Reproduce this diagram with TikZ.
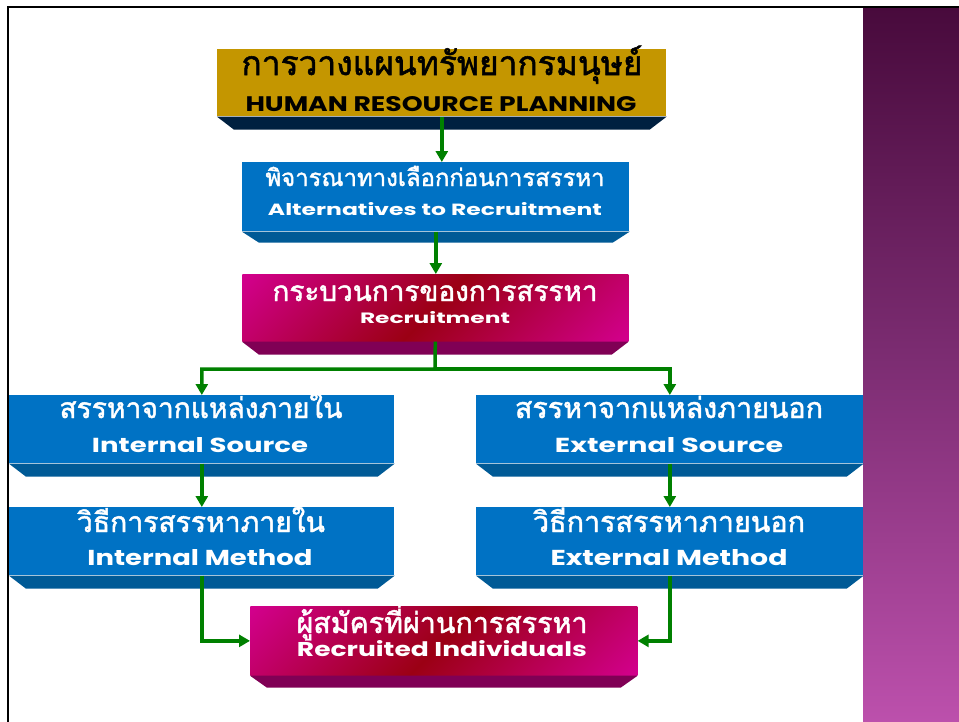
\documentclass[tikz,border=0pt]{standalone}
\usepackage{fontspec}
\setmainfont{Poppins}
\newfontfamily\thaifont[Script=Thai, FakeBold=1.6]{Loma}
\usetikzlibrary{arrows.meta}
\newlength\pxu \setlength\pxu{0.02cm}
\definecolor{gold}{RGB}{196,150,0}
\definecolor{navy}{RGB}{0,32,64}
\definecolor{bluef}{RGB}{0,114,196}
\definecolor{blueb}{RGB}{0,90,150}
\definecolor{mag}{RGB}{210,0,140}
\definecolor{dred}{RGB}{155,0,20}
\definecolor{magb}{RGB}{128,0,85}
\definecolor{arrgreen}{RGB}{0,128,0}
\definecolor{bandtop}{RGB}{72,10,60}
\definecolor{bandmid}{RGB}{125,45,115}
\definecolor{bandbot}{RGB}{188,80,172}
\pgfdeclarehorizontalshading{magred}{100bp}{color(0bp)=(mag);color(15bp)=(mag);color(50bp)=(dred);color(85bp)=(mag);color(100bp)=(mag)}
\newcommand\bevel[3]{\fill[#2] (#1.south west) -- (#1.south east) -- ([xshift=-0.34cm,yshift=-#3]#1.south east) -- ([xshift=0.34cm,yshift=-#3]#1.south west) -- cycle;}
\newcommand\thtxt[6]{\node[anchor=base, inner sep=0, text=#5] (#1) at (#2,#3) {\resizebox{#4\pxu}{!}{\thaifont #6}};}
\newcommand\entxt[7]{\node[anchor=base, inner sep=0, text=#6] (#1) at (#2,#3) {\resizebox{#4\pxu}{#5\pxu}{\bfseries #7}};}
\begin{document}
\begin{tikzpicture}[x=0.02cm,y=-0.02cm,
  box/.style={inner sep=0, anchor=north west},
  arr/.style={draw=arrgreen, line width=0.07cm, -{Triangle[width=0.24cm,length=0.22cm]}},
  magbox/.style={box, shade, shading=magred, shading angle=-45}]
\useasboundingbox (0,0) rectangle (959,721);
\fill[white] (0,0) rectangle (959,721);
\shade[top color=bandtop, bottom color=bandbot, middle color=bandmid] (863,7) rectangle (959,721);
% boxes
\node[box, fill=gold, minimum width=8.98cm, minimum height=1.34cm] (hrp) at (217,49) {};
\bevel{hrp}{navy}{0.26cm}
\node[box, fill=bluef, minimum width=7.74cm, minimum height=1.38cm] (alt) at (242,162) {};
\bevel{alt}{blueb}{0.22cm}
\node[magbox, minimum width=7.72cm, minimum height=1.34cm] (rec) at (242,274) {};
\bevel{rec}{magb}{0.26cm}
\node[box, fill=bluef, minimum width=7.7cm, minimum height=1.36cm] (ins) at (9,395) {};
\bevel{ins}{blueb}{0.26cm}
\node[box, fill=bluef, minimum width=7.74cm, minimum height=1.36cm] (exs) at (476,395) {};
\bevel{exs}{blueb}{0.26cm}
\node[box, fill=bluef, minimum width=7.7cm, minimum height=1.36cm] (inm) at (9,507) {};
\bevel{inm}{blueb}{0.26cm}
\node[box, fill=bluef, minimum width=7.74cm, minimum height=1.36cm] (exm) at (476,507) {};
\bevel{exm}{blueb}{0.26cm}
\node[magbox, minimum width=7.74cm, minimum height=1.38cm] (rci) at (250,606) {};
\bevel{rci}{magb}{0.24cm}
% texts
\thtxt{hrpth}{442}{75}{401}{black}{การวางแผนทรัพยากรมนุษย์}
\entxt{hrpen}{441}{111}{391}{15}{black}{HUMAN RESOURCE PLANNING}
\thtxt{altth}{435}{186}{339}{white}{พิจารณาทางเลือกก่อนการสรรหา}
\entxt{alten}{435}{215}{334}{13}{white}{Alternatives to Recruitment}
\thtxt{recth}{435}{301}{325}{white}{กระบวนการของการสรรหา}
\entxt{recen}{435}{323}{150}{12}{white}{Recruitment}
\thtxt{insth}{201}{418}{283}{white}{สรรหาจากแหล่งภายใน}
\entxt{insen}{200}{452}{216}{15}{white}{Internal Source}
\thtxt{exsth}{669}{418}{308}{white}{สรรหาจากแหล่งภายนอก}
\entxt{exsen}{669}{452}{228}{15}{white}{External Source}
\thtxt{inmth}{201}{532}{248}{white}{วิธีการสรรหาภายใน}
\entxt{inmen}{200}{565}{225}{16}{white}{Internal Method}
\thtxt{exmth}{669}{532}{272}{white}{วิธีการสรรหาภายนอก}
\entxt{exmen}{669}{565}{237}{16}{white}{External Method}
\thtxt{rcith}{442}{633}{291}{white}{ผู้สมัครที่ผ่านการสรรหา}
\entxt{rcien}{442}{656}{290}{16}{white}{Recruited Individuals}
% connectors
\coordinate (split) at (435,369);
\draw[arr] (hrp.south) -- (hrp.south |- alt.north);
\draw[arr] (alt.south) -- (alt.south |- rec.north);
\draw[arr] (rec.south) -- (split) -| (ins.north);
\draw[arr] (split) -| (exs.north);
\draw[arr] (ins.south) -- (inm.north);
\draw[arr] (exs.south) -- (exm.north);
\draw[arr] (inm.south) |- (rci.west);
\draw[arr] (exm.south) |- (rci.east);
% frame
\draw[line width=0.05cm, line cap=rect] (8,721) -- (8,7) -- (959,7);
\end{tikzpicture}
\end{document}
